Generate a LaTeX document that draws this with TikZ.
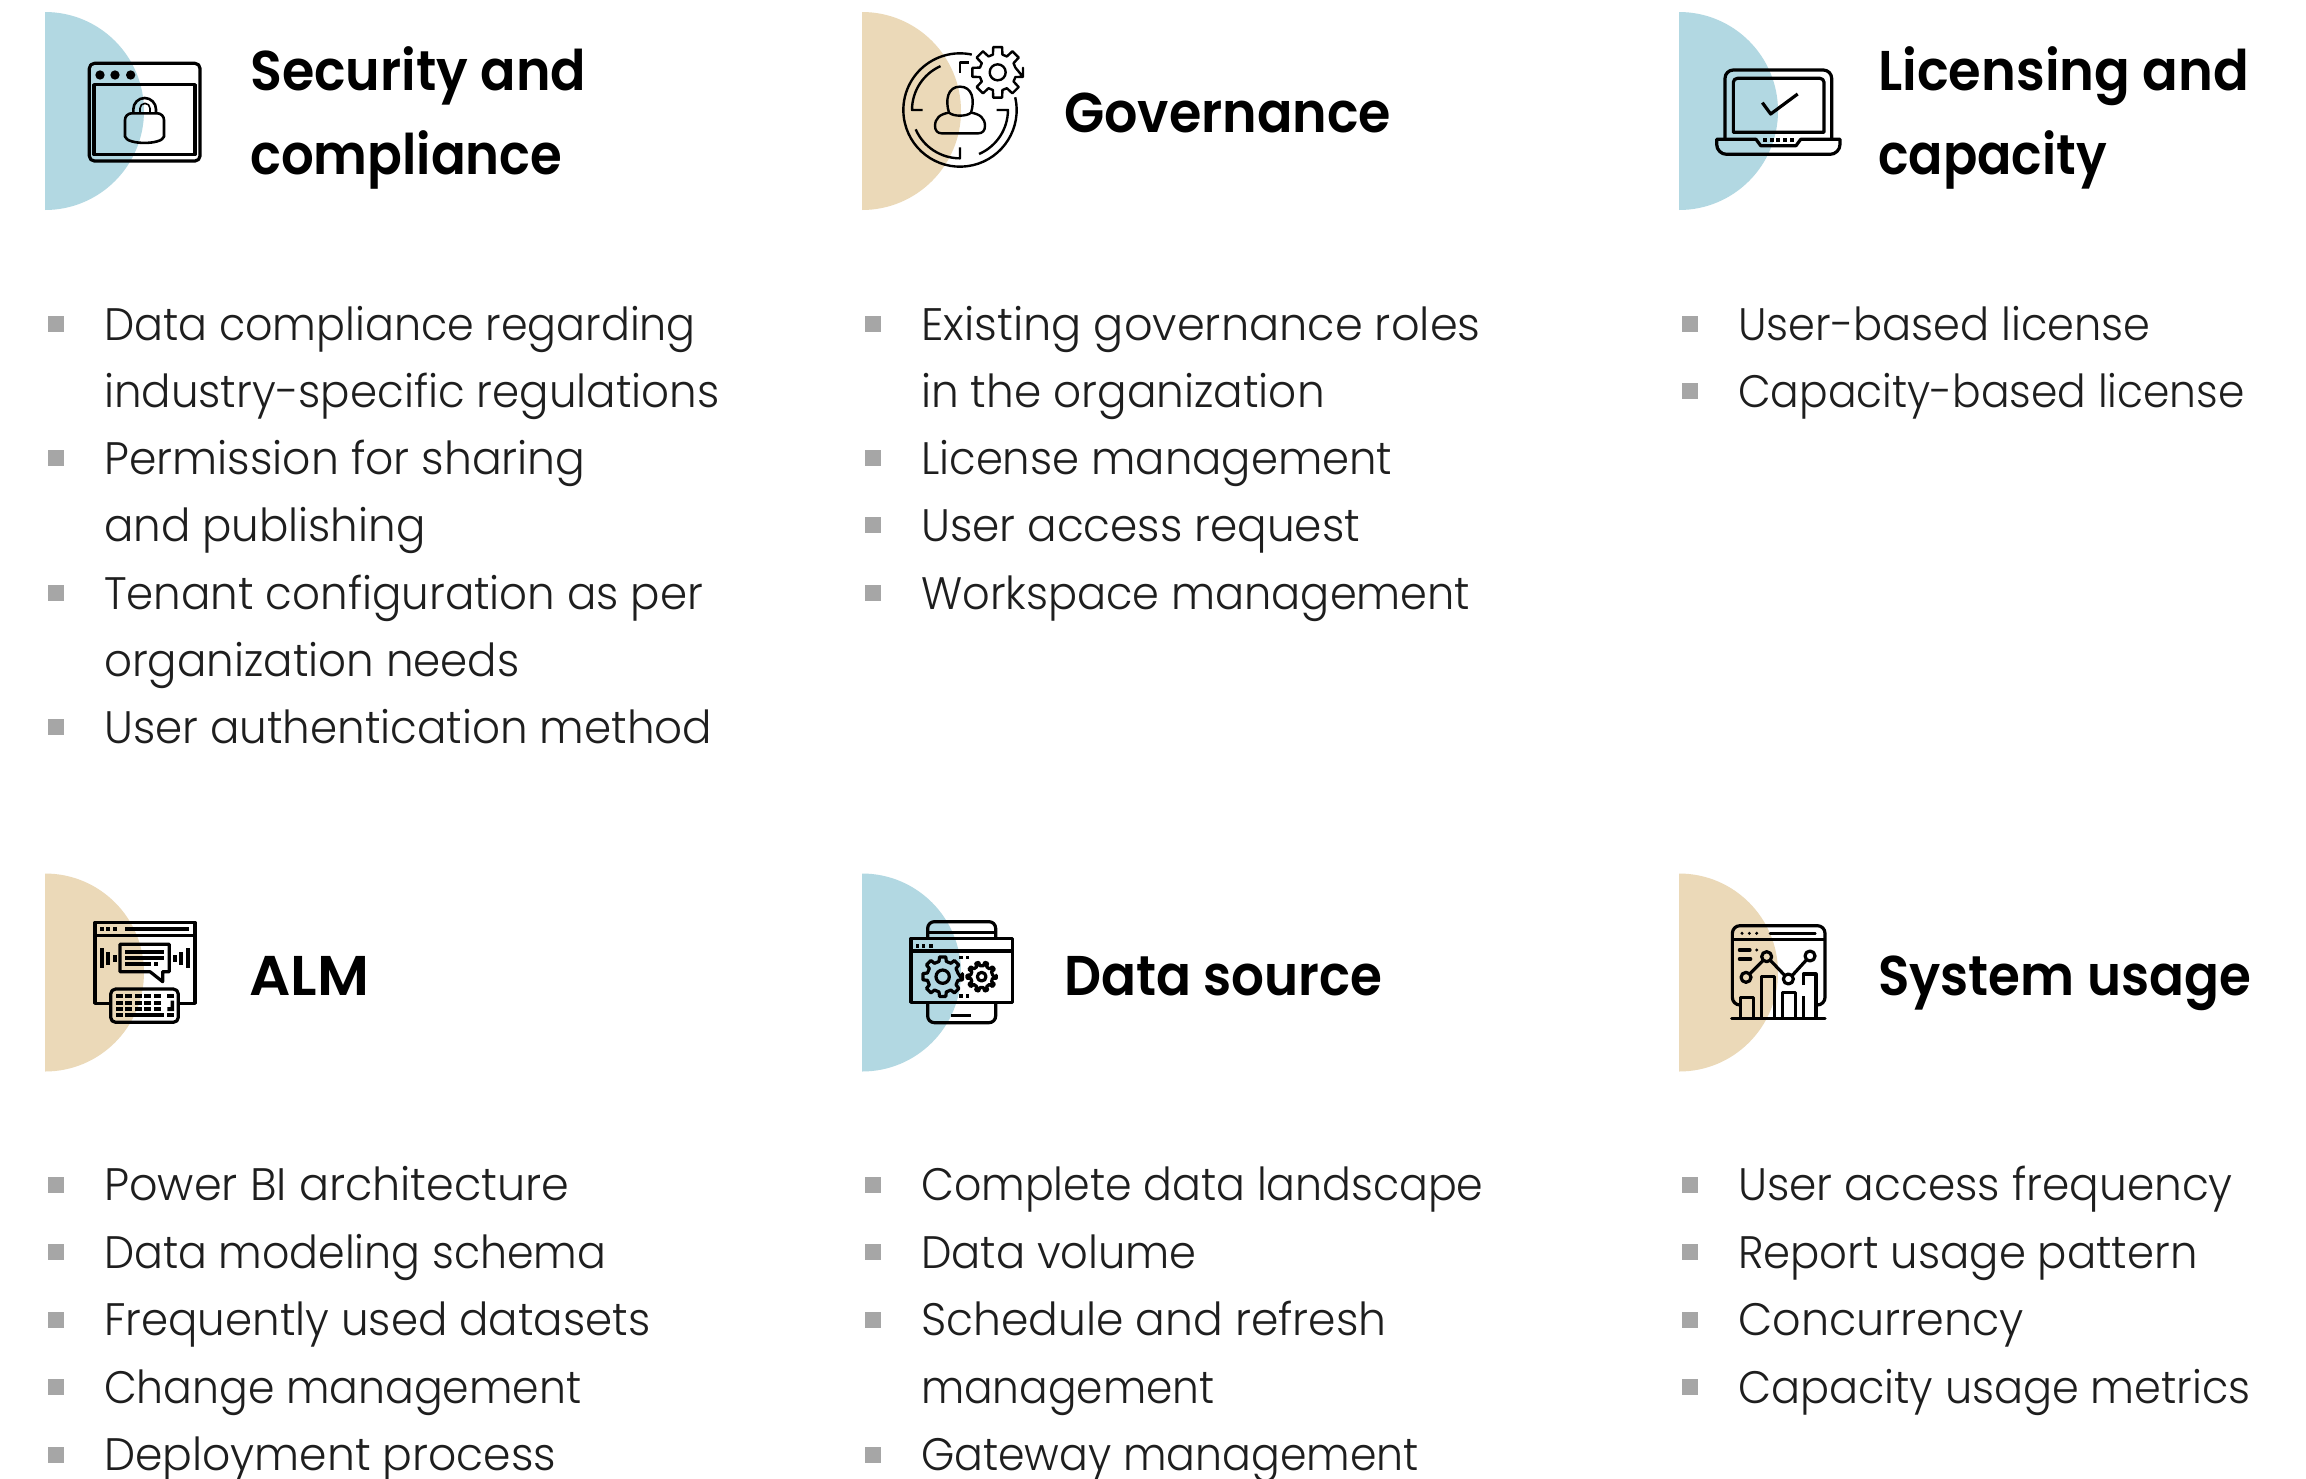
\documentclass[tikz,border=0pt]{standalone}
\usepackage{fontspec}
\usepackage{graphicx}
\newfontfamily\listfont[UprightFont={* Light}]{Poppins}
\newfontfamily\titlefont[UprightFont={* SemiBold}]{Poppins}
\definecolor{bluehalf}{HTML}{B2D8E2}
\definecolor{tanhalf}{HTML}{EBD9B8}
\definecolor{bulletgrey}{HTML}{A6A6A6}
\definecolor{listtext}{HTML}{1E1E1E}
\tikzset{
  titletext/.style={anchor=base west,inner sep=0pt,text=black,font=\titlefont\fontsize{56}{60}\selectfont},
  listtext/.style={anchor=base west,inner sep=0pt,text=listtext,font=\listfont\fontsize{45.5}{50}\selectfont},
  bulletbox/.style={fill=bulletgrey,draw=none,minimum size=16pt,inner sep=0pt,anchor=center},
  ic/.style={draw=black,line width=3.2pt,line join=round,fill=none},
}
% set text to a target width (given in display units, 1 unit = 1.47 px)
\newcommand{\fitw}[2]{\setbox0=\hbox{#2}\pgfmathsetmacro{\fitr}{(#1+1.5)*1.47/\wd0}\scalebox{\fitr}[1]{#2}}
\newcommand{\halfdisc}[3]{%
  \fill[#3] (#1,#2-99) .. controls (#1+54.7,#2-99) and (#1+99,#2-54.7) .. (#1+99,#2)
    .. controls (#1+99,#2+54.7) and (#1+54.7,#2+99) .. (#1,#2+99) -- cycle;}
\newcommand{\lineitem}[5]{% name, x, baseline, width, text
  \node[listtext] (#1) at (#2,#3) {\fitw{#4}{#5}};}
\newcommand{\bulleted}[5]{%
  \node[bulletbox] (#1b) at (#2-48.5,#3-16) {};
  \node[listtext] (#1) at (#2,#3) {\fitw{#4}{#5}};}
\newcommand{\heading}[5]{%
  \node[titletext] (#1) at (#2,#3) {\fitw{#4}{#5}};}
\newcommand{\gearpath}[7]{% cx cy ro ri n lw frac
  \draw[draw=black,line width=#6pt,line join=round] ({#1+#3*cos(#7)},{#2+#3*sin(#7)})
    \foreach \k in {0,...,\numexpr#5-1\relax}{
      -- ({#1+#3*cos(\k*360/#5-#7)},{#2+#3*sin(\k*360/#5-#7)})
      -- ({#1+#3*cos(\k*360/#5+#7)},{#2+#3*sin(\k*360/#5+#7)})
      -- ({#1+#4*cos(\k*360/#5+#7*1.5)},{#2+#4*sin(\k*360/#5+#7*1.5)})
      -- ({#1+#4*cos((\k+1)*360/#5-#7*1.5)},{#2+#4*sin((\k+1)*360/#5-#7*1.5)})
    } -- cycle;}
\begin{document}
\begin{tikzpicture}[x=1pt,y=1pt,yscale=-1]
\useasboundingbox (0,0) rectangle (2306,1478);
\fill[white] (0,0) rectangle (2306,1478);
% half discs
\halfdisc{45}{111}{bluehalf}
\halfdisc{862}{111}{tanhalf}
\halfdisc{1679}{111}{bluehalf}
\halfdisc{45}{972.5}{tanhalf}
\halfdisc{862}{972.5}{bluehalf}
\halfdisc{1679}{972.5}{tanhalf}
% Icon 1
\begin{scope}[shift={(30,0)},scale=1/3]
 \draw[ic] (178,205) arc[start angle=180,end angle=270,radius=15pt] -- (495,190) arc[start angle=270,end angle=360,radius=15pt] -- (510,468) arc[start angle=0,end angle=90,radius=15pt] -- (193,483) arc[start angle=90,end angle=180,radius=15pt] -- cycle;
 \draw[ic] (192,254) rectangle (495,464);
 \foreach \x in {210,255,302} \fill[black] (\x,225) circle[radius=14pt];
 \draw[ic,line width=2.6pt] (285,360) arc[start angle=180,end angle=270,radius=20pt] -- (382,340) arc[start angle=270,end angle=360,radius=20pt] -- (402,410) .. controls (395,435) and (292,435) .. (285,410) -- cycle;
 \draw[ic,line width=2.6pt] (310,340) -- (310,328) arc[start angle=180,end angle=360,radius=34pt] -- (378,340);
 \draw[ic,line width=1.6pt] (330,340) -- (330,325) arc[start angle=180,end angle=360,radius=15pt] -- (360,340);
\end{scope}
% Icon 2
\begin{scope}[shift={(850,0)},scale=1/3]
 \draw[ic,line width=2.4pt] (330,330) ++(-13:170pt) arc[start angle=-13,end angle=282,radius=170pt];
 \draw[ic,line width=2.4pt] (218,330) -- (186,330) arc[start angle=180,end angle=246,radius=144pt];
 \draw[ic,line width=2.4pt] (197,388) arc[start angle=156.4,end angle=90,radius=145pt] -- (330,442);
 \draw[ic,line width=2.4pt] (387,462) arc[start angle=66.6,end angle=0,radius=144pt] -- (440,330);
 \draw[ic,line width=2.4pt] (330,218) -- (330,187) -- (358,187);
 \draw[ic,line width=2.4pt] (297,338) .. controls (285,300) and (293,260) .. (330,260) .. controls (367,260) and (375,300) .. (363,338) .. controls (350,350) and (310,350) .. (297,338);
 \draw[ic,line width=2.4pt] (297,338) .. controls (270,342) and (255,355) .. (255,378) .. controls (255,392) and (263,400) .. (275,400) -- (385,400) .. controls (397,400) and (405,392) .. (405,378) .. controls (405,355) and (390,342) .. (363,338);
 \gearpath{443}{217}{77}{55}{8}{2.4}{10}
 \draw[ic,line width=2.4pt] (443,217) circle[radius=24pt];
\end{scope}
% Icon 3
\begin{scope}[shift={(1670,0)},scale=1/3]
 \draw[ic] (165,415) -- (165,235) arc[start angle=180,end angle=270,radius=25pt] -- (460,210) arc[start angle=270,end angle=360,radius=25pt] -- (485,415);
 \draw[ic] (190,397) -- (190,247) arc[start angle=180,end angle=270,radius=12pt] -- (450,235) arc[start angle=270,end angle=360,radius=12pt] -- (462,397) -- cycle;
 \draw[ic] (277,308) -- (302,342) -- (383,282);
 \draw[ic] (140,418) -- (258,418) -- (272,437) -- (378,437) -- (392,418) -- (510,418) -- (510,433) arc[start angle=0,end angle=90,radius=30pt] -- (170,463) arc[start angle=90,end angle=180,radius=30pt] -- cycle;
 \foreach \x in {285,305,325,345,365} \fill[black] (\x-6,413) rectangle (\x+6,425);
\end{scope}
% Icon 4
\begin{scope}[shift={(30,870)},scale=1/3]
 \draw[ic] (242,400) -- (195,400) -- (195,157) -- (495,157) -- (495,400) -- (445,400);
 \draw[ic] (195,197) -- (495,197);
 \foreach \x in {215,234,255} \fill[black] (\x-6,171) rectangle (\x+6,183);
 \fill[black] (285,171) rectangle (477,183);
 \draw[ic] (270,223) -- (418,223) -- (418,305) -- (398,305) -- (398,335) -- (360,305) -- (270,305) -- cycle;
 \fill[black] (285,239) rectangle (402,251);
 \fill[black] (285,258) rectangle (402,270);
 \fill[black] (285,276) rectangle (362,288);
 \fill[black] (372,276) rectangle (384,288);
 \fill[black] (210,234) rectangle (222,293);
 \fill[black] (228,246) rectangle (240,285);
 \fill[black] (249,256) rectangle (261,275);
 \fill[black] (429,256) rectangle (441,275);
 \fill[black] (468,234) rectangle (480,293);
 \fill[black] (447,246) rectangle (459,285);
 \draw[ic] (242,372) arc[start angle=180,end angle=270,radius=15pt] -- (430,357) arc[start angle=270,end angle=360,radius=15pt] -- (445,442) arc[start angle=0,end angle=90,radius=15pt] -- (257,457) arc[start angle=90,end angle=180,radius=15pt] -- cycle;
 \foreach \y in {378,398,417} \foreach \x in {258,286,316,342,373} \fill[black] (\x,\y-6) rectangle (\x+20,\y+6);
 \fill[black] (412,372) rectangle (432,384);
 \fill[black] (258,429) rectangle (278,441);
 \fill[black] (286,429) rectangle (402,441);
 \fill[black] (412,429) rectangle (432,441);
 \fill[black] (422,392) -- (432,392) -- (432,423) -- (412,423) -- (412,411) -- (422,411) -- cycle;
\end{scope}
% Icon 5
\begin{scope}[shift={(850,870)},scale=1/3]
 \draw[ic] (233,205) -- (233,175) arc[start angle=180,end angle=270,radius=20pt] -- (417,155) arc[start angle=270,end angle=360,radius=20pt] -- (437,205);
 \draw[ic] (233,187) -- (437,187);
 \draw[ic] (183,205) rectangle (487,397);
 \draw[ic] (183,243) -- (487,243);
 \foreach \x in {202,221,243} \fill[black] (\x-5,223) rectangle (\x+5,233);
 \foreach \x in {333,353} \foreach \y in {263,378} \fill[black] (\x-5,\y-5) rectangle (\x+5,\y+5);
 \gearpath{278}{320}{60}{47}{8}{3.2}{9}
 \draw[ic] (278,320) circle[radius=20pt];
 \gearpath{395}{320}{44}{33}{10}{3.2}{6}
 \draw[ic] (395,320) circle[radius=13pt];
 \draw[ic] (233,400) -- (233,438) arc[start angle=180,end angle=90,radius=20pt] -- (417,458) arc[start angle=90,end angle=0,radius=20pt] -- (437,400);
 \fill[black] (303,432) rectangle (362,441);
\end{scope}
% Icon 6
\begin{scope}[shift={(1670,870)},scale=1/3]
 \draw[ic] (210,405) arc[start angle=90,end angle=180,radius=23pt] -- (187,190) arc[start angle=180,end angle=270,radius=23pt] -- (442,167) arc[start angle=270,end angle=360,radius=23pt] -- (465,382) arc[start angle=0,end angle=90,radius=23pt];
 \draw[ic] (187,209) -- (465,209);
 \foreach \x in {216,238,260} \fill[black] (\x,190) circle[radius=5pt];
 \draw[ic,line width=2.6pt,line cap=round] (300,190) -- (436,190);
 \draw[ic,line cap=round] (208,240) -- (240,240);
 \fill[black] (260,240) circle[radius=5pt];
 \draw[ic,line cap=round] (208,267) -- (242,267);
 \draw[ic,line cap=round] (185,446) -- (465,446);
 \draw[ic] (212,440) -- (212,382) -- (250,382) -- (250,440);
 \draw[ic] (275,440) -- (275,320) -- (314,320) -- (314,440);
 \draw[ic] (338,440) -- (338,367) -- (377,367) -- (377,440);
 \draw[ic] (400,440) -- (400,378);
 \draw[ic] (400,345) -- (400,312) -- (438,312) -- (438,440);
 \draw[ic] (228,322) circle[radius=15pt];
 \draw[ic] (290,260) circle[radius=15pt];
 \draw[ic] (355,327) circle[radius=15pt];
 \draw[ic] (420,258) circle[radius=15pt];
 \draw[ic] (240,311) -- (279,272);
 \draw[ic] (302,272) -- (344,316);
 \draw[ic] (367,316) -- (409,270);
\end{scope}
% Titles
\heading{t1a}{250}{90}{227}{Security and}
\heading{t1b}{250}{174.5}{211}{compliance}
\heading{t2}{1064}{132}{221}{Governance}
\heading{t3a}{1878}{90}{251}{Licensing and}
\heading{t3b}{1878}{174.5}{154}{capacity}
\heading{t4}{249}{995}{80}{ALM}
\heading{t5}{1064}{995}{215}{Data source}
\heading{t6}{1878}{995}{252}{System usage}
% Lists
\bulleted{a1}{104}{340}{401}{Data compliance regarding}
\lineitem{a1x}{104}{407}{417}{industry-specific regulations}
\bulleted{a2}{104}{474}{326}{Permission for sharing}
\lineitem{a2x}{104}{541}{217}{and publishing}
\bulleted{a3}{104}{609}{406}{Tenant configuration as per}
\lineitem{a3x}{104}{676}{281}{organization needs}
\bulleted{a4}{104}{743}{412}{User authentication method}
\bulleted{b1}{921}{340}{379}{Existing governance roles}
\lineitem{b1x}{921}{407}{273}{in the organization}
\bulleted{b2}{921}{474}{319}{License management}
\bulleted{b3}{921}{541}{297}{User access request}
\bulleted{b4}{921}{609}{372}{Workspace management}
\bulleted{c1}{1738}{340}{279}{User-based license}
\bulleted{c2}{1738}{407}{343}{Capacity-based license}
\bulleted{d1}{104}{1200.5}{315}{Power BI architecture}
\bulleted{d2}{104}{1268}{340}{Data modeling schema}
\bulleted{d3}{104}{1335.5}{370}{Frequently used datasets}
\bulleted{d4}{104}{1403}{323}{Change management}
\bulleted{d5}{104}{1470.5}{306}{Deployment process}
\bulleted{e1}{921}{1200.5}{381}{Complete data landscape}
\bulleted{e2}{921}{1268}{186}{Data volume}
\bulleted{e3}{921}{1335.5}{315}{Schedule and refresh}
\lineitem{e3x}{921}{1403}{198}{management}
\bulleted{e4}{921}{1470.5}{337}{Gateway management}
\bulleted{f1}{1738}{1200.5}{335}{User access frequency}
\bulleted{f2}{1738}{1268}{311}{Report usage pattern}
\bulleted{f3}{1738}{1335.5}{193}{Concurrency}
\bulleted{f4}{1738}{1403}{347}{Capacity usage metrics}
\end{tikzpicture}
\end{document}
